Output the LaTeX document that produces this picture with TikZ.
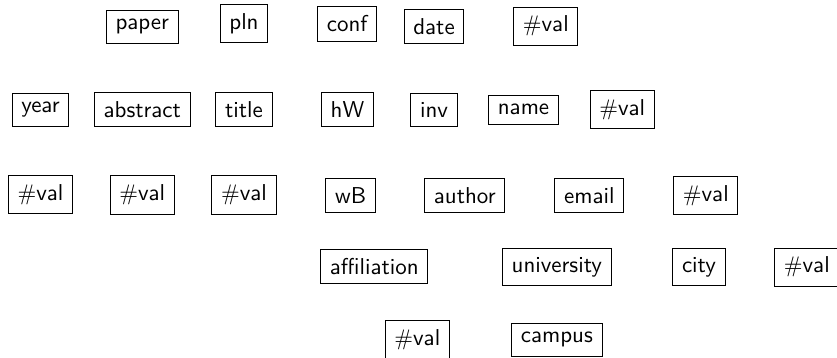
\documentclass[tikz,border=0pt]{standalone}
\begin{document}
\begin{tikzpicture}[x=0.4444pt,y=-0.4444pt,
  lbl/.style={draw,line width=0.45pt,inner xsep=4.1pt,inner ysep=3.95pt,font=\sffamily\fontsize{10.2pt}{12pt}\selectfont}]
\useasboundingbox (0,0) rectangle (837,357);
% row 1
\node[lbl] (paper) at (142.3,26.7) {paper};
\node[lbl] (pln) at (244,23.8) {pln};
\node[lbl] (conf) at (347.2,24) {conf};
\node[lbl] (date) at (434,26.5) {date};
\node[lbl] (v1) at (545.8,26.2) {$\#$val};
% row 2
\node[lbl] (year) at (40.5,110) {year};
\node[lbl] (abstract) at (142.3,109.7) {abstract};
\node[lbl] (title) at (244,109.7) {title};
\node[lbl] (hW) at (347.5,109.8) {hW};
\node[lbl] (inv) at (434,109.8) {inv};
\node[lbl] (name) at (523.5,109.8) {name};
\node[lbl] (v2) at (622.2,109.8) {$\#$val};
% row 3
\node[lbl] (v3) at (40.5,194.5) {$\#$val};
\node[lbl] (v4) at (142.3,195) {$\#$val};
\node[lbl] (v5) at (244,195) {$\#$val};
\node[lbl] (wB) at (350.6,195.5) {wB};
\node[lbl] (author) at (464.8,195.7) {author};
\node[lbl] (email) at (589.3,195.7) {email};
\node[lbl] (v6) at (705.8,195.5) {$\#$val};
% row 4
\node[lbl] (affiliation) at (374.3,266.8) {affiliation};
\node[lbl] (university) at (556.8,267.2) {university};
\node[lbl] (city) at (699,267.2) {city};
\node[lbl] (v7) at (806.8,267.2) {$\#$val};
% row 5
\node[lbl] (v8) at (417.3,339.8) {$\#$val};
\node[lbl] (campus) at (556.8,339.8) {campus};
\end{tikzpicture}
\end{document}
